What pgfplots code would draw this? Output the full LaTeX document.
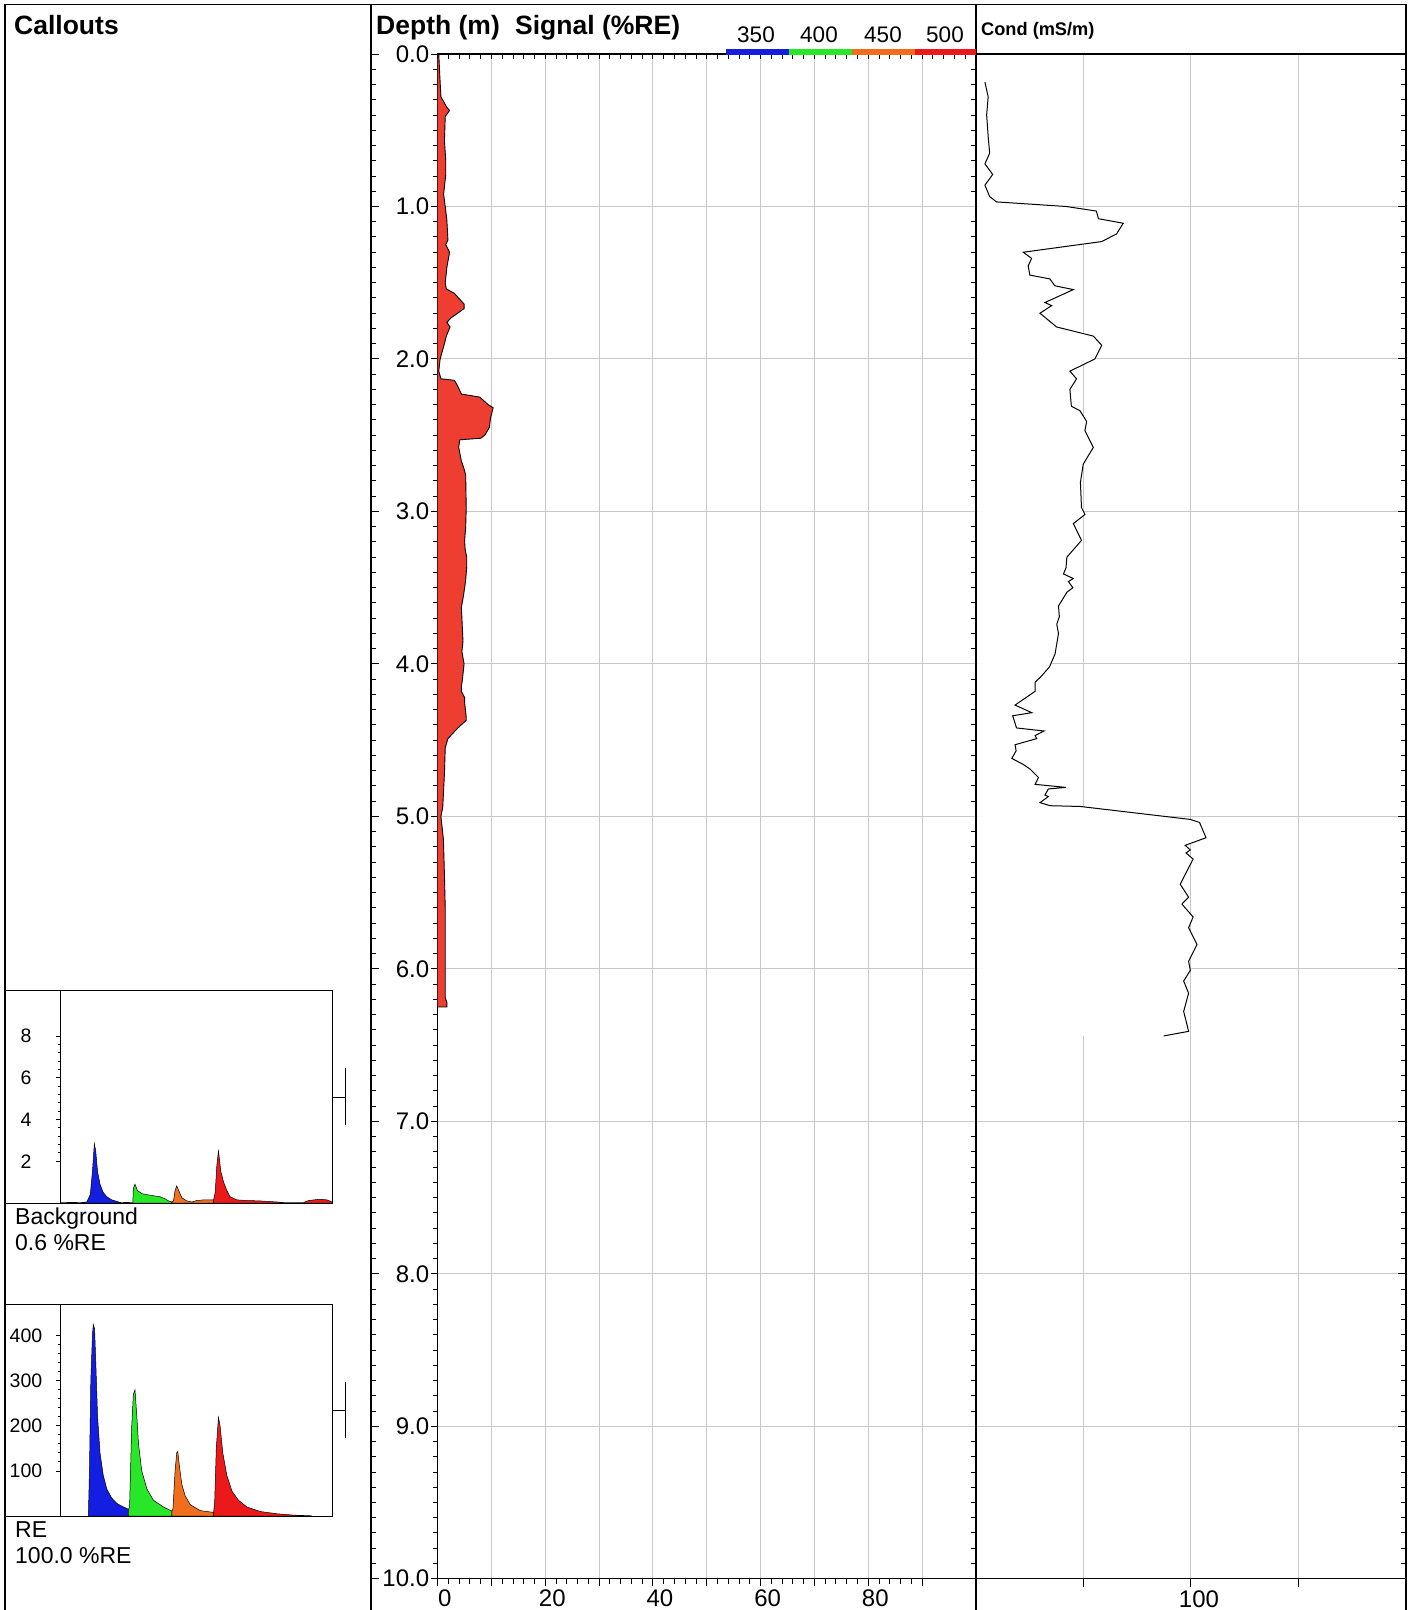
\documentclass[border=0pt]{standalone}
\usepackage{fontspec}
\setmainfont{Liberation Sans}
\usepackage{pgfplots}
\usepackage{pgfplotstable}
\pgfplotsset{compat=1.18}
\pgfplotsset{/pgf/number format/assume math mode=true}

\definecolor{sigred}{RGB}{238,62,50}
\definecolor{gridgray}{RGB}{200,200,200}
\definecolor{cblue}{RGB}{20,30,225}
\definecolor{cgreen}{RGB}{40,230,40}
\definecolor{corange}{RGB}{240,110,30}
\definecolor{cred}{RGB}{235,25,25}

% Signal (%RE) vs depth (m)
\pgfplotstableread{
v d
0.0 0.00
0.2 0.00
0.4 0.15
0.6 0.28
1.7 0.35
2.2 0.37
1.4 0.41
1.25 0.57
1.5 0.70
1.5 0.79
1.1 0.92
1.4 1.00
1.7 1.09
1.9 1.22
1.5 1.25
2.2 1.30
1.7 1.40
1.4 1.50
1.6 1.54
3.1 1.57
4.9 1.64
4.9 1.67
2.5 1.73
1.7 1.76
2.3 1.79
1.6 1.85
1.25 1.90
0.45 2.00
0.2 2.08
0.6 2.13
3.1 2.14
3.6 2.17
4.4 2.23
7.8 2.25
9.4 2.30
10.3 2.32
9.8 2.39
9.6 2.45
8.75 2.50
8.0 2.52
4.1 2.53
3.9 2.58
4.4 2.67
4.8 2.71
5.2 2.76
5.3 2.98
5.2 3.10
5.0 3.19
5.1 3.25
5.4 3.30
5.4 3.36
5.2 3.45
4.8 3.55
4.4 3.63
4.5 3.70
4.6 3.78
4.7 3.85
4.5 3.92
4.9 4.00
4.6 4.10
4.4 4.15
4.4 4.18
5.0 4.22
5.0 4.25
5.3 4.35
5.3 4.37
3.75 4.42
1.9 4.49
1.4 4.55
1.25 4.72
0.94 4.94
0.6 5.00
1.06 5.15
1.25 5.38
1.4 5.60
1.4 5.91
1.4 6.19
1.7 6.22
1.7 6.25
0.0 6.25
}\signal

% Conductivity (mS/m) vs depth (m)
\pgfplotstableread{
v d
4.2 0.185
5.7 0.28
5.0 0.40
5.7 0.54
6.4 0.65
4.2 0.72
7.8 0.79
4.2 0.86
6.4 0.935
9.6 0.97
42 1.00
56 1.03
57 1.08
68.5 1.11
65.4 1.18
58.5 1.23
22 1.30
25.9 1.34
24.3 1.39
25.1 1.45
34.4 1.475
36.7 1.52
45.3 1.545
32.1 1.63
35.2 1.65
29.8 1.70
37.5 1.79
54.6 1.85
58.5 1.91
55.3 2.00
43.7 2.08
46.8 2.13
43.7 2.20
44.4 2.31
48.4 2.34
51.5 2.41
50.7 2.47
54.6 2.58
49.9 2.69
48.6 2.81
49.1 2.975
50.7 3.02
45.3 3.08
49.1 3.19
42.3 3.30
41.9 3.37
40.7 3.41
45.3 3.44
43.0 3.46
45.1 3.50
42.3 3.53
38.4 3.62
38.8 3.69
37.6 3.74
38.4 3.80
36.8 3.935
34.2 4.02
29.8 4.09
27.5 4.12
27.5 4.18
18.2 4.27
26.0 4.32
17.1 4.34
18.9 4.42
31.7 4.44
27.5 4.47
28.3 4.49
18.2 4.53
18.7 4.57
16.7 4.62
22.1 4.66
25.2 4.69
29.1 4.745
27.5 4.79
41.9 4.81
33.7 4.82
32.1 4.86
33.7 4.87
29.8 4.91
34.5 4.93
48.5 4.935
99.7 5.02
104 5.04
107 5.14
97.3 5.19
99.7 5.22
97.7 5.24
101 5.28
95.0 5.445
98.9 5.53
95.8 5.575
101 5.66
98.9 5.73
102.8 5.84
98.9 5.95
99.7 6.01
96.6 6.08
98.9 6.16
96.6 6.28
97.7 6.34
98.9 6.41
87.3 6.44
}\cond

% Background callout spectrum
\pgfplotstableread{
x v
7.6 0.02
9.5 0.05
10.8 0.4
11.6 1.5
12.3 2.85
12.8 2.5
13.5 1.5
14.4 0.9
15.6 0.5
16.9 0.3
18.7 0.15
20.6 0.08
22.0 0.02
}\bgblue
\pgfplotstableread{
x v
26.5 0.05
26.7 0.7
27.3 0.9
28.2 0.6
29.8 0.45
31.7 0.4
34.1 0.35
36.6 0.3
38.4 0.2
39.7 0.1
40.9 0.05
}\bggreen
\pgfplotstableread{
x v
40.9 0.05
41.5 0.1
42.1 0.6
42.7 0.82
43.6 0.55
44.6 0.25
46.4 0.1
48.3 0.05
50.1 0.12
52.6 0.15
55.0 0.15
56.3 0.15
}\bgorange
\pgfplotstableread{
x v
56.3 0.15
56.9 0.5
57.5 1.8
58.1 2.5
59.0 1.5
60.0 1.0
61.2 0.6
62.4 0.3
64.9 0.15
68.6 0.12
73.5 0.1
79.7 0.05
82.1 0.02
}\bgredA
\pgfplotstableread{
x v
89.5 0.02
90.8 0.1
93.2 0.15
95.7 0.18
98.2 0.15
100 0.05
}\bgredB
\pgfplotstableread{
x v
0 0.03
7.6 0.02
22.0 0.02
26.5 0.03
82.1 0.02
89.5 0.02
}\bgbase

% RE callout spectrum
\pgfplotstableread{
x v
10.1 0
10.5 100
11.0 300
11.6 400
11.9 425
12.4 415
12.9 330
13.5 220
14.4 140
15.6 90
16.9 60
18.7 40
20.6 28
22.4 22
24.9 15
}\reblue
\pgfplotstableread{
x v
24.9 15
25.3 20
26.1 200
26.7 270
27.3 280
28.0 220
28.6 160
29.8 100
31.7 60
34.1 35
37.8 20
40.9 11
}\regreen
\pgfplotstableread{
x v
40.9 11
41.3 15
42.1 100
42.7 140
43.1 143
43.7 110
44.6 70
45.8 45
47.7 25
51.4 12
56.3 8
}\reorange
\pgfplotstableread{
x v
56.3 8
56.7 30
57.3 150
58.1 219
58.7 200
59.7 140
61.2 90
63.1 55
65.5 35
68.6 20
73.5 10
79.7 5
85.8 2
92.6 0.5
}\rered

\newcommand{\tickfont}{\fontsize{24}{28}\selectfont}
\newcommand{\capfont}{\fontsize{23}{27}\selectfont}
\newcommand{\smallfont}{\fontsize{19.5}{23}\selectfont}
\newcommand{\titlefont}{\fontsize{26.5}{30}\selectfont\bfseries}

\begin{document}
\begin{tikzpicture}
\useasboundingbox (0pt,0pt) rectangle (1408pt,-1610pt);

% ---------- Conductivity panel ----------
\begin{axis}[
  at={(975.9pt,-54pt)}, anchor=north west,
  scale only axis, width=430.1pt, height=1524.7pt,
  xmin=0, xmax=200, ymin=0, ymax=10, y dir=reverse,
  axis line style={line width=1.2pt},
  xtick={50,100,150}, xticklabels={,100,},
  xtick pos=left, ytick pos=left, tick align=outside,
  ytick={0,1,...,10}, minor y tick num=9, yticklabels={},
  major tick length=8pt, minor tick length=5pt,
  tick style={black, line width=1pt},
  xmajorgrids, ymajorgrids,
  major grid style={gridgray, line width=1pt},
  xticklabel style={font=\tickfont, xshift=8pt},
]
\addplot[fill=white, draw=none] table[x=v,y=d] {\cond}
  -- (axis cs:0.8,6.44) -- (axis cs:0.8,0.185) -- cycle;
\addplot[black, line width=1pt] table[x=v,y=d] {\cond};
\end{axis}
% right border ticks of conductivity panel
\begin{axis}[
  at={(975.9pt,-54pt)}, anchor=north west,
  scale only axis, width=430.1pt, height=1524.7pt,
  xmin=0, xmax=200, ymin=0, ymax=10, y dir=reverse,
  hide x axis, axis line style={line width=1.2pt},
  ytick={0,1,...,10}, minor y tick num=9, yticklabels={},
  ytick pos=right, tick align=inside,
  major tick length=8pt, minor tick length=5pt,
  tick style={black, line width=1pt},
]
\end{axis}

% ---------- Signal panel ----------
\begin{axis}[
  at={(437.7pt,-54pt)}, anchor=north west,
  scale only axis, width=538.2pt, height=1524.7pt,
  xmin=0, xmax=100, ymin=0, ymax=10, y dir=reverse,
  axis line style={line width=1.2pt},
  xtick={0,10,...,90}, xticklabels={0,,20,,40,,60,,80,},
  minor x tick num=4,
  ytick={0,1,...,10}, minor y tick num=9,
  xtick pos=left, ytick pos=left, tick align=outside,
  major tick length=7pt, minor tick length=5pt,
  tick style={black, line width=1pt},
  xmajorgrids, ymajorgrids,
  major grid style={gridgray, line width=1pt},
  xticklabel style={font=\tickfont, xshift=7pt},
  yticklabel style={font=\tickfont, xshift=2pt, /pgf/number format/.cd, fixed, fixed zerofill, precision=1},
]
\addplot[fill=sigred, draw=black, line width=0.9pt] table[x=v,y=d] {\signal};
\end{axis}
% top inward ticks of signal panel
\begin{axis}[
  at={(437.7pt,-54pt)}, anchor=north west,
  scale only axis, width=538.2pt, height=1524.7pt,
  xmin=0, xmax=100, ymin=0, ymax=10, y dir=reverse,
  hide y axis, axis line style={line width=1.2pt},
  xtick={0,2,...,100}, xticklabels={},
  xtick pos=right, tick align=inside,
  major tick length=5pt,
  tick style={black, line width=1pt},
]
\end{axis}
% ticks on the left border of the signal panel
\begin{axis}[
  at={(371pt,-54pt)}, anchor=north west,
  scale only axis, width=66.7pt, height=1524.7pt,
  xmin=0, xmax=1, ymin=0, ymax=10, y dir=reverse,
  hide x axis, axis y line*=left, axis line style={line width=1.2pt},
  ytick={0,1,...,10}, minor y tick num=9, yticklabels={},
  ytick pos=left, tick align=inside,
  major tick length=8pt, minor tick length=5pt,
  tick style={black, line width=1pt},
]
\end{axis}

% ---------- Background callout ----------
\begin{axis}[
  at={(61pt,-1203pt)}, anchor=south west,
  scale only axis, width=271pt, height=213pt,
  xmin=0, xmax=100, ymin=0, ymax=10.2,
  axis x line=none, axis y line*=left, axis line style={line width=1pt},
  ytick={2,4,6,8}, minor y tick num=4,
  tick align=outside, major tick length=5pt, minor tick length=3pt,
  tick style={black, line width=0.8pt},
  yticklabel style={font=\smallfont, anchor=center, xshift=-30pt},
]
\addplot[black, line width=0.6pt] table {\bgbase};
\addplot[fill=cblue, draw=black, line width=0.5pt] table {\bgblue} \closedcycle;
\addplot[fill=cgreen, draw=black, line width=0.5pt] table {\bggreen} \closedcycle;
\addplot[fill=corange, draw=black, line width=0.5pt] table {\bgorange} \closedcycle;
\addplot[fill=cred, draw=black, line width=0.5pt] table {\bgredA} \closedcycle;
\addplot[fill=cred, draw=black, line width=0.5pt] table {\bgredB} \closedcycle;
\end{axis}

% ---------- RE callout ----------
\begin{axis}[
  at={(61pt,-1516pt)}, anchor=south west,
  scale only axis, width=271pt, height=212pt,
  xmin=0, xmax=100, ymin=0, ymax=470,
  axis x line=none, axis y line*=left, axis line style={line width=1pt},
  ytick={100,200,300,400}, minor y tick num=4,
  tick align=outside, major tick length=5pt, minor tick length=3pt,
  tick style={black, line width=0.8pt},
  yticklabel style={font=\smallfont, anchor=center, xshift=-30pt},
]
\addplot[fill=cblue, draw=black, line width=0.5pt] table {\reblue} \closedcycle;
\addplot[fill=cgreen, draw=black, line width=0.5pt] table {\regreen} \closedcycle;
\addplot[fill=corange, draw=black, line width=0.5pt] table {\reorange} \closedcycle;
\addplot[fill=cred, draw=black, line width=0.5pt] table {\rered} \closedcycle;
\end{axis}

% ---------- frames, headers, legend ----------
\begin{scope}[x=1pt, y=-1pt]
  \draw[line width=1.3pt] (5,1610) -- (5,4.7) -- (1406,4.7) -- (1406,1610);
  \draw[line width=1.3pt] (371,4.7) -- (371,1610);
  \draw[line width=1.3pt] (975.9,4.7) -- (975.9,1610);
  % callout boxes
  \draw[line width=1pt] (5,990) rectangle (332,1203);
  \draw[line width=1pt] (5,1304) rectangle (332,1516);
  \draw[line width=1pt] (332,1097) -- (345,1097) (345,1068) -- (345,1125);
  \draw[line width=1pt] (332,1410) -- (345,1410) (345,1382) -- (345,1438);
  % headers
  \node[anchor=base west, inner sep=0pt, font=\titlefont] at (14,34) {Callouts};
  \node[anchor=base west, inner sep=0pt, font=\titlefont] at (376,34) {Depth (m)};
  \node[anchor=base west, inner sep=0pt, font=\titlefont] at (515,34) {Signal (\%RE)};
  \node[anchor=base west, inner sep=0pt, font=\fontsize{18.2}{21}\selectfont\bfseries] at (981,35) {Cond (mS/m)};
  % wavelength legend
  \fill[cblue]   (726,48.5) rectangle (788.5,55);
  \fill[cgreen]  (788.5,48.5) rectangle (852,55);
  \fill[corange] (852,48.5) rectangle (914.5,55);
  \fill[cred]    (914.5,48.5) rectangle (975.9,55);
  \foreach \xx/\tt in {756/350, 819/400, 883/450, 945/500}
    \node[anchor=base, inner sep=0pt, font=\fontsize{22.5}{26}\selectfont] at (\xx,42) {\tt};
  % callout captions
  \node[anchor=base west, inner sep=0pt, font=\capfont] at (15,1224) {Background};
  \node[anchor=base west, inner sep=0pt, font=\capfont] at (15,1250) {0.6 \%RE};
  \node[anchor=base west, inner sep=0pt, font=\capfont] at (15,1537) {RE};
  \node[anchor=base west, inner sep=0pt, font=\capfont] at (15,1563) {100.0 \%RE};
\end{scope}
\end{tikzpicture}
\end{document}
